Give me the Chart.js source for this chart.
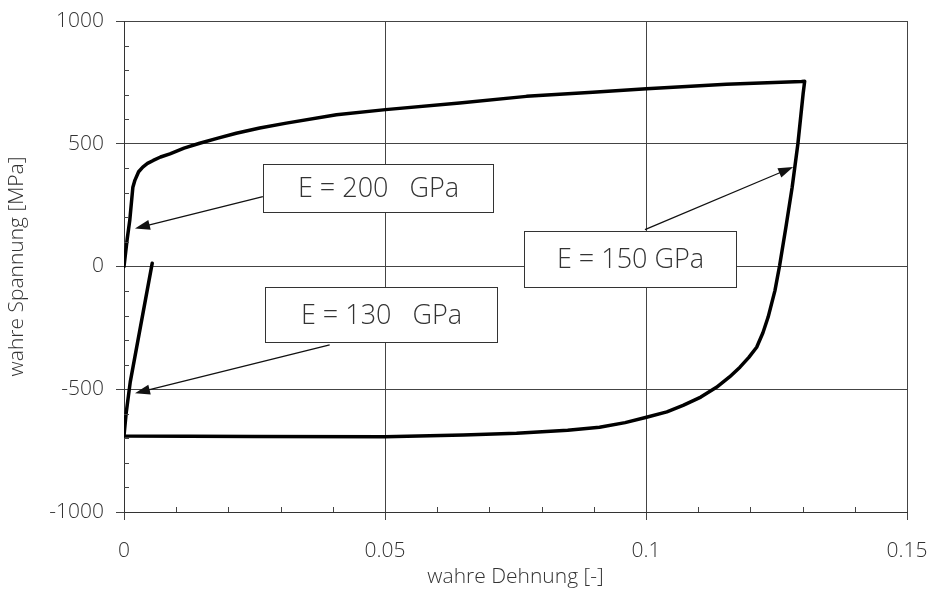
<!DOCTYPE html>
<html>
<head>
<meta charset="utf-8">
<script src="https://cdn.jsdelivr.net/npm/chart.js@4/dist/chart.umd.min.js"></script>
<style>
  html, body { margin: 0; padding: 0; background: #fff; }
  #wrap { width: 933px; height: 590px; }
</style>
</head>
<body>
<div id="wrap"><canvas id="chart" width="933" height="590"></canvas></div>
<script>
// hysteresis path, in drawing order
const strain = [
  0, 0.0006, 0.0011, 0.0017, 0.0021, 0.0028, 0.0036, 0.0045, 0.0056, 0.0070,
  0.0088, 0.0115, 0.0145, 0.0180, 0.0215, 0.0260, 0.0311, 0.0407, 0.0501, 0.0643,
  0.0771, 0.0898, 0.1001, 0.1154, 0.1298, 0.1304, 0.1301, 0.1291, 0.1280, 0.1268,
  0.1256, 0.1247, 0.1234, 0.1224, 0.1212, 0.1197, 0.1180, 0.1160, 0.1135, 0.1105,
  0.1071, 0.1040, 0.1001, 0.0960, 0.0911, 0.0850, 0.0752, 0.0650, 0.0500, 0.0250,
  0.0000, 0.0004, 0.0012, 0.0054
];
const stress = [
  0, 110, 187, 323, 352, 386, 405, 420, 432, 446,
  459, 482, 502, 523, 543, 564, 584, 618, 639, 666,
  693, 710, 724, 742, 754, 755, 704, 500, 323, 160,
  4, -98, -206, -270, -329, -370, -410, -450, -492, -532,
  -566, -592, -614, -636, -655, -667, -679, -686, -693, -692,
  -690, -600, -470, 13
];

const xTicks = [0, 0.05, 0.1, 0.15];
const yTicks = [-1000, -500, 0, 500, 1000];

const labelTexts = ['E = 200   GPa', 'E = 130   GPa', 'E = 150 GPa'];
// box corners [x0, y0, x1, y1] and arrow [fromX, fromY, toX, toY] in data units
const labelBoxes = [
  [0.0266, 418, 0.0707, 222],
  [0.0271, -84, 0.0714, -308],
  [0.0766, 144, 0.1173, -84]
];
const labelArrows = [
  [0.0266, 285, 0.0021, 155],
  [0.0394, -319, 0.0021, -516],
  [0.0998, 150, 0.1282, 405]
];

const FONT = '"Open Sans", "DejaVu Sans", sans-serif';
const TEXT = '#333';

const points = strain.map((x, i) => ({ x, y: stress[i] }));

const minorTicks = {
  id: 'minorTicks',
  afterDraw(chart) {
    const { ctx, chartArea: a, scales: { x, y } } = chart;
    ctx.save();
    ctx.strokeStyle = '#444';
    ctx.lineWidth = 1;
    ctx.beginPath();
    for (let v = -900; v < 1000; v += 100) {
      if (v % 500 === 0) continue;
      const py = Math.round(y.getPixelForValue(v)) + 0.5;
      ctx.moveTo(a.left, py);
      ctx.lineTo(a.left + 5, py);
    }
    for (let k = 1; k < 15; k++) {
      if (k % 5 === 0) continue;
      const px = Math.round(x.getPixelForValue(k / 100)) + 0.5;
      ctx.moveTo(px, a.bottom);
      ctx.lineTo(px, a.bottom - 5);
    }
    ctx.stroke();
    ctx.restore();
  }
};

const labels = {
  id: 'labels',
  afterDraw(chart) {
    const { ctx, scales: { x, y } } = chart;
    ctx.save();
    labelArrows.forEach(([fx, fy, tx, ty]) => {
      const x1 = x.getPixelForValue(fx), y1 = y.getPixelForValue(fy);
      const x2 = x.getPixelForValue(tx), y2 = y.getPixelForValue(ty);
      const ang = Math.atan2(y2 - y1, x2 - x1);
      const len = 15, half = 5;
      ctx.strokeStyle = '#111';
      ctx.fillStyle = '#111';
      ctx.lineWidth = 1.3;
      ctx.beginPath();
      ctx.moveTo(x1, y1);
      ctx.lineTo(x2 - Math.cos(ang) * len * 0.8, y2 - Math.sin(ang) * len * 0.8);
      ctx.stroke();
      ctx.beginPath();
      ctx.moveTo(x2, y2);
      ctx.lineTo(x2 - Math.cos(ang) * len - Math.sin(ang) * half, y2 - Math.sin(ang) * len + Math.cos(ang) * half);
      ctx.lineTo(x2 - Math.cos(ang) * len + Math.sin(ang) * half, y2 - Math.sin(ang) * len - Math.cos(ang) * half);
      ctx.closePath();
      ctx.fill();
    });
    labelBoxes.forEach(([bx0, by0, bx1, by1], i) => {
      const l = Math.round(x.getPixelForValue(bx0)) + 0.5;
      const r = Math.round(x.getPixelForValue(bx1)) + 0.5;
      const t = Math.round(y.getPixelForValue(by0)) + 0.5;
      const b = Math.round(y.getPixelForValue(by1)) + 0.5;
      ctx.fillStyle = '#fff';
      ctx.fillRect(l, t, r - l, b - t);
      ctx.strokeStyle = '#333';
      ctx.lineWidth = 1;
      ctx.strokeRect(l, t, r - l, b - t);
      ctx.fillStyle = TEXT;
      ctx.font = `300 27px ${FONT}`;
      ctx.textAlign = 'center';
      ctx.textBaseline = 'middle';
      ctx.fillText(labelTexts[i], (l + r) / 2, (t + b) / 2 + 1);
    });
    ctx.restore();
  }
};

new Chart(document.getElementById('chart'), {
  type: 'scatter',
  data: {
    datasets: [{
      data: points,
      showLine: true,
      borderColor: '#000',
      borderWidth: 3.5,
      pointRadius: 0,
      tension: 0,
      borderJoinStyle: 'round',
      borderCapStyle: 'round'
    }]
  },
  options: {
    responsive: false,
    animation: false,
    layout: { padding: { top: 21, right: 26, left: 0, bottom: 0 } },
    plugins: { legend: { display: false }, tooltip: { enabled: false } },
    scales: {
      x: {
        type: 'linear',
        min: 0,
        max: 0.15,
        afterBuildTicks: s => { s.ticks = xTicks.map(value => ({ value })); },
        afterFit: s => { s.height = 78; s.paddingLeft = 0; s.paddingRight = 0; },
        ticks: {
          callback: v => String(Number(v.toFixed(2))),
          color: TEXT,
          font: { family: FONT, size: 21, weight: 300 },
          padding: 18,
          maxRotation: 0
        },
        grid: { color: '#444', lineWidth: 1, tickLength: 8 },
        border: { color: '#333' },
        title: {
          display: true,
          text: 'wahre Dehnung [-]',
          color: TEXT,
          font: { family: FONT, size: 21, weight: 300 },
          padding: { top: 0, bottom: 0 }
        }
      },
      y: {
        type: 'linear',
        min: -1000,
        max: 1000,
        afterBuildTicks: s => { s.ticks = yTicks.map(value => ({ value })); },
        afterFit: s => { s.width = 124; s.paddingTop = 0; s.paddingBottom = 0; },
        ticks: {
          callback: v => String(v),
          color: TEXT,
          font: { family: FONT, size: 21, weight: 300 },
          padding: 12
        },
        grid: { color: '#444', lineWidth: 1, tickLength: 8 },
        border: { color: '#333' },
        title: {
          display: true,
          text: 'wahre Spannung [MPa]',
          color: TEXT,
          font: { family: FONT, size: 21, weight: 300 },
          padding: { bottom: 0 }
        }
      }
    }
  },
  plugins: [minorTicks, labels]
});
</script>
</body>
</html>
